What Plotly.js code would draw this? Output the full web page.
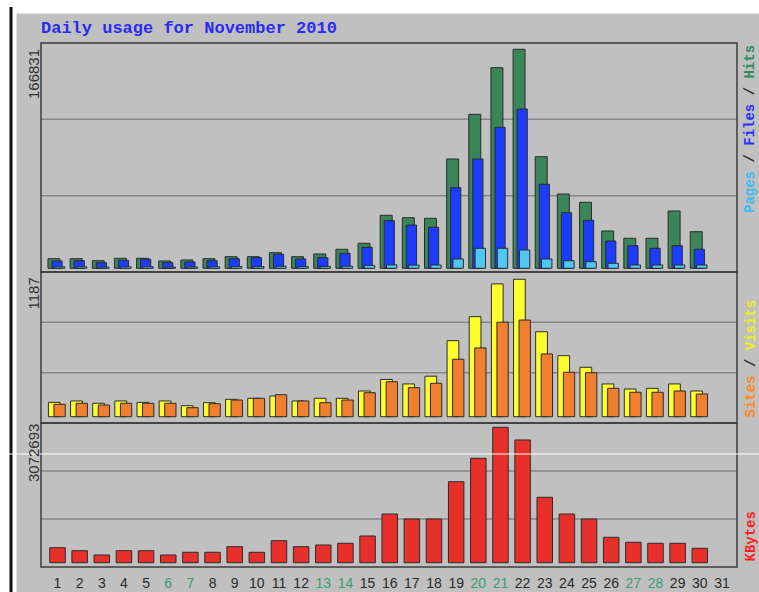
<!DOCTYPE html>
<html><head><meta charset="utf-8">
<script src="https://cdn.plot.ly/plotly-3.0.1.min.js"></script>
<style>html,body{margin:0;padding:0;background:#fff}#chart{width:759px;height:592px}</style>
</head><body><div id="chart"></div>
<script>
const days = [1,2,3,4,5,6,7,8,9,10,11,12,13,14,15,16,17,18,19,20,21,22,23,24,25,26,27,28,29,30,31];
const dayLabels = ['1','2','3','4','5','6','7','8','9','10','11','12','13','14','15','16','17','18','19','20','21','22','23','24','25','26','27','28','29','30','31'];
const weekendDays = [6,7,13,14,20,21,27,28];
const hits = [7313,7313,5790,7618,7618,5561,6323,7313,8837,8837,11884,8837,10894,14474,19045,40375,38547,38090,83265,117317,152817,166831,85017,56602,50279,28415,22854,22854,43651,27882,null];
const files = [5561,5790,4266,6094,6856,4266,4799,5790,7313,8075,10665,7085,8075,11427,15998,36262,32986,31234,61401,83265,107414,121355,63991,42356,36566,20797,17217,15236,17217,14474,null];
const pages = [1100,1100,900,1100,1200,900,1000,1100,1300,1300,1500,1300,1400,1600,2200,2600,2400,2500,7085,15236,15236,13941,7085,5790,5028,3809,2514,2514,2514,2514,null];
const visits = [124,136,116,136,124,136,95,121,150,159,179,136,159,159,222,322,283,350,657,864,1147,1187,734,527,427,283,239,245,283,222,null];
const sites = [107,116,101,116,116,116,78,112,144,159,190,136,121,144,207,302,251,289,496,594,816,835,542,384,380,245,211,211,222,196,null];
const kbytes = [340412,272306,175128,272950,271874,174560,236210,236845,363120,235990,499310,362870,401950,440215,606340,1105230,991870,992410,1838260,2369140,3072693,2785410,1484320,1104870,992130,576240,463180,440350,439870,327460,null];
const maxHits = 166831, maxVisits = 1187, maxKBytes = 3072693;
const titleText = 'Daily usage for November 2010';

const tickText = dayLabels.map((t, i) => weekendDays.includes(days[i]) ? '<span style="color:#3a9d72">' + t + '</span>' : t);
const outline = {color: '#2b2b2b', width: 1};
function bar(y, yaxis, color, offset, width) {
  return {type: 'bar', x: days, y: y, xaxis: 'x', yaxis: yaxis, offset: offset, width: width,
    marker: {color: color, line: outline}, hoverinfo: 'skip'};
}
const traces = [
  bar(hits, 'y', '#3b8659', -0.43, 0.54),
  bar(files, 'y', '#1c3cff', -0.25, 0.46),
  bar(pages, 'y', '#50c6f2', -0.145, 0.47),
  bar(visits, 'y2', '#ffff30', -0.41, 0.53),
  bar(sites, 'y2', '#f08030', -0.16, 0.51),
  bar(kbytes, 'y3', '#e8302a', -0.35, 0.70)
];

const W = 759, H = 592, L = 41, R = 22, T = 43, B = 25;
const px = v => (v - L) / (W - L - R);
const py = v => (H - B - v) / (H - T - B);

const shapes = [];
['y', 'y2', 'y3'].forEach(ax => {
  [1/3, 2/3].forEach(f => shapes.push({type: 'line', xref: 'x domain', yref: ax + ' domain', x0: 0, x1: 1, y0: f, y1: f,
    line: {color: '#868686', width: 1.5}, layer: 'below'}));
  shapes.push({type: 'rect', xref: 'x domain', yref: ax + ' domain', x0: 0, x1: 1, y0: 0, y1: 1,
    line: {color: '#3c3c3c', width: 1.5}, fillcolor: 'rgba(0,0,0,0)', layer: 'above'});
});
shapes.push({type: 'rect', xref: 'paper', yref: 'paper', x0: px(0), x1: px(16.5), y0: py(592), y1: py(0), fillcolor: '#ffffff', line: {width: 0}, layer: 'below'});
shapes.push({type: 'rect', xref: 'paper', yref: 'paper', x0: px(0), x1: px(759), y0: py(13.5), y1: py(0), fillcolor: '#ffffff', line: {width: 0}, layer: 'below'});
shapes.push({type: 'line', xref: 'paper', yref: 'paper', x0: px(11), x1: px(11), y0: py(7), y1: py(592), line: {color: '#111111', width: 3}, layer: 'above'});
shapes.push({type: 'line', xref: 'paper', yref: 'paper', x0: px(0), x1: px(759), y0: py(454), y1: py(454), line: {color: '#ffffff', width: 1}, layer: 'above'});

const mono = 'Liberation Mono, DejaVu Sans Mono, monospace';
const sans = 'Liberation Sans, Arial, sans-serif';
function rotLabel(text, x, y, font) {
  return {text: text, xref: 'paper', yref: 'paper', x: px(x), y: py(y), xanchor: 'center', yanchor: 'middle',
    textangle: -90, showarrow: false, font: font};
}
const annotations = [
  {text: '<b>' + titleText + '</b>', xref: 'paper', yref: 'paper', x: px(39), y: py(28), xanchor: 'left', yanchor: 'middle',
    showarrow: false, font: {family: mono, size: 17, color: '#2a2af5'}},
  rotLabel(String(maxHits), 33, 74, {family: sans, size: 15, color: '#333'}),
  rotLabel(String(maxVisits), 33, 293.5, {family: sans, size: 15, color: '#333'}),
  rotLabel(String(maxKBytes), 33, 453, {family: sans, size: 15, color: '#333'}),
  rotLabel('<b><span style="color:#3cbdf0">Pages</span> / <span style="color:#2233ff">Files</span> / <span style="color:#2e8b5e">Hits</span></b>',
    750, 129, {family: mono, size: 14, color: '#333'}),
  rotLabel('<b><span style="color:#ff8a20">Sites</span> / <span style="color:#eeee20">Visits</span></b>',
    750, 358.5, {family: mono, size: 14, color: '#333'}),
  rotLabel('<b>KBytes</b>', 750, 536.5, {family: mono, size: 14, color: '#ff2020'})
];

const hiddenY = {showticklabels: false, showgrid: false, zeroline: false, ticks: '', showline: false, fixedrange: true};
const layout = {
  width: W, height: H, margin: {l: L, r: R, t: T, b: B, pad: 0},
  paper_bgcolor: '#c0c0c0', plot_bgcolor: '#c0c0c0',
  barmode: 'overlay', showlegend: false,
  xaxis: {range: [0.255, 31.68], tickmode: 'array', tickvals: days, ticktext: tickText, ticks: '', ticklabelstandoff: 6,
    tickfont: {family: sans, size: 14, color: '#2a2a2a'},
    showgrid: false, zeroline: false, showline: false, anchor: 'y3', fixedrange: true},
  yaxis: Object.assign({domain: [0.563, 1], range: [-2819, 171634]}, hiddenY),
  yaxis2: Object.assign({domain: [0.2748, 0.563], range: [-54.4, 1250]}, hiddenY),
  yaxis3: Object.assign({domain: [0, 0.2748], range: [-97584, 3170352]}, hiddenY),
  shapes: shapes, annotations: annotations
};
Plotly.newPlot('chart', traces, layout, {staticPlot: true, displayModeBar: false});
</script></body></html>
